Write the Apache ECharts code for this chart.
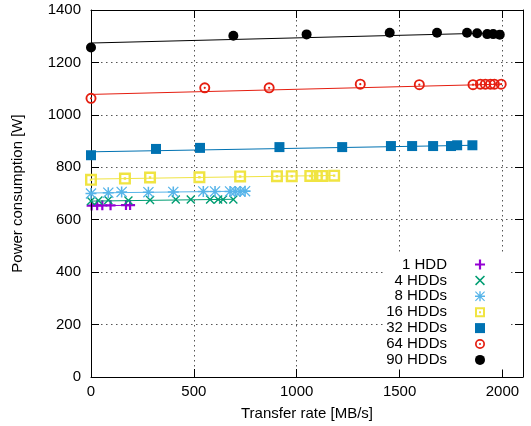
<!DOCTYPE html>
<html><head><meta charset="utf-8">
<script src="https://cdn.jsdelivr.net/npm/echarts@6/dist/echarts.min.js"></script>
<style>html,body{margin:0;padding:0;background:#fff}#c{width:531px;height:426px}</style>
</head><body><div id="c"></div>
<script>
// ---- data ----
const seriesNames = ['1 HDD', '4 HDDs', '8 HDDs', '16 HDDs', '32 HDDs', '64 HDDs', '90 HDDs'];

const rate1  = [3, 30, 55, 95, 170, 190];
const power1 = [654, 655, 655, 655, 656, 656];

const rate4  = [0, 36, 84, 182, 287, 412, 485, 579, 618, 642, 692];
const power4 = [671, 673, 675, 673, 675, 677, 677, 677, 677, 677, 677];

const rate8  = [0, 84, 149, 279, 400, 546, 603, 676, 701, 725, 749];
const power8 = [700, 703, 706, 705, 706, 708, 708, 708, 708, 708, 709];

const rate16  = [0, 165, 287, 527, 725, 904, 976, 1066, 1098, 1123, 1182];
const power16 = [752, 757, 761, 762, 765, 766, 766, 767, 767, 767, 768];

const rate32  = [0, 316, 530, 916, 1221, 1458, 1561, 1663, 1750, 1780, 1854];
const power32 = [846, 870, 874, 877, 877, 881, 881, 881, 881, 884, 884];

const rate64  = [0, 553, 866, 1309, 1596, 1857, 1893, 1917, 1942, 1961, 1994];
const power64 = [1063, 1103, 1103, 1117, 1115, 1115, 1117, 1117, 1117, 1117, 1117];

const rate90  = [0, 692, 1048, 1452, 1682, 1828, 1877, 1926, 1955, 1987];
const power90 = [1257, 1302, 1307, 1313, 1313, 1313, 1311, 1308, 1308, 1306];

// linear fit lines: power at rate 0 and at the last rate
const fitStartPower = [653, 671, 702, 755, 859, 1078, 1274];
const fitEndPower   = [655, 678, 709, 769, 884, 1117, 1313];
const fitEndRate    = [190, 692, 749, 1182, 1854, 1994, 1987];

const xTickValues = [0, 500, 1000, 1500, 2000];
const xAxisMax = 2100;
const yTickValues = [0, 200, 400, 600, 800, 1000, 1200, 1400];

// ---- styling ----
const colors = ['#9400d3', '#009e73', '#56b4e9', '#f0e442', '#0072b2', '#e51e10', '#000000'];
const symbols = [
  'path://M3.9,0H6.1V3.9H10V6.1H6.1V10H3.9V6.1H0V3.9H3.9Z',
  'path://M0,1.1L1.1,0L5,3.9L8.9,0L10,1.1L6.1,5L10,8.9L8.9,10L5,6.1L1.1,10L0,8.9L3.9,5Z',
  'path://M4.3,0H5.7V10H4.3Z M0,4.3H10V5.7H0Z M0.8,0L10,9.2L9.2,10L0,0.8Z M9.2,0L10,0.8L0.8,10L0,9.2Z',
  'path://M0,0H10V10H0Z M2,2V8H8V2Z M4,4H6V6H4Z',
  'path://M0,0H10V10H0Z',
  'path://M0,5A5,5,0,1,1,10,5A5,5,0,1,1,0,5Z M1.7,5A3.3,3.3,0,1,0,8.3,5A3.3,3.3,0,1,0,1.7,5Z M4,5A1,1,0,1,1,6,5A1,1,0,1,1,4,5Z',
  'circle'
];
const symbolSizes = [10, 9, 11, 12, 10, 11, 10];
const rates = [rate1, rate4, rate8, rate16, rate32, rate64, rate90];
const powers = [power1, power4, power8, power16, power32, power64, power90];

const FONT = 'Liberation Sans';
const series = [];
for (let i = 0; i < seriesNames.length; i++) {
  series.push({
    name: seriesNames[i] + ' fit',
    type: 'line',
    data: [[0, fitStartPower[i]], [fitEndRate[i], fitEndPower[i]]],
    showSymbol: false,
    symbol: 'none',
    lineStyle: { color: colors[i], width: 1 },
    z: 2 + i * 2,
    silent: true
  });
  series.push({
    name: seriesNames[i],
    type: 'scatter',
    data: rates[i].map((r, k) => [r, powers[i][k]]),
    symbol: symbols[i],
    symbolSize: symbolSizes[i],
    itemStyle: { color: colors[i], opacity: 1 },
    z: 3 + i * 2
  });
}

const axisCommon = {
  axisLine: { show: true, onZero: false, lineStyle: { color: '#000', width: 1 } },
  axisTick: { show: true, inside: true, length: 8, lineStyle: { color: '#000', width: 1 } },
  minorTick: { show: false }
};
const plainNum = v => String(v);

const chart = echarts.init(document.getElementById('c'), null, { renderer: 'canvas' });
chart.setOption({
  animation: false,
  backgroundColor: '#fff',
  textStyle: { fontFamily: FONT },
  grid: { left: 91, right: 8, top: 10, bottom: 49, containLabel: false },
  xAxis: [
    Object.assign({}, axisCommon, {
      type: 'value', position: 'bottom', z: 5,
      min: xTickValues[0], max: xAxisMax, interval: xTickValues[1] - xTickValues[0],
      name: 'Transfer rate [MB/s]', nameLocation: 'middle', nameGap: 29,
      nameTextStyle: { fontFamily: FONT, fontSize: 15, color: '#000' },
      axisLabel: { fontFamily: FONT, fontSize: 15, color: '#000', margin: 7, showMaxLabel: false, formatter: plainNum },
      splitLine: { show: true, lineStyle: { color: '#555', width: 1, type: [1.5, 3.5] } }
    }),
    Object.assign({}, axisCommon, {
      type: 'value', position: 'top', z: 5,
      min: xTickValues[0], max: xAxisMax, interval: xTickValues[1] - xTickValues[0],
      axisLabel: { show: false }, splitLine: { show: false }
    })
  ],
  yAxis: [
    Object.assign({}, axisCommon, {
      type: 'value', position: 'left', z: 5,
      min: yTickValues[0], max: yTickValues[yTickValues.length - 1], interval: yTickValues[1] - yTickValues[0],
      name: 'Power consumption [W]', nameLocation: 'middle', nameGap: 66,
      nameTextStyle: { fontFamily: FONT, fontSize: 15, color: '#000' },
      axisLabel: { fontFamily: FONT, fontSize: 15, color: '#000', margin: 10, formatter: plainNum },
      splitLine: { show: true, lineStyle: { color: '#555', width: 1, type: [1.5, 3.5] } }
    }),
    Object.assign({}, axisCommon, {
      type: 'value', position: 'right', z: 5,
      min: yTickValues[0], max: yTickValues[yTickValues.length - 1], interval: yTickValues[1] - yTickValues[0],
      axisLabel: { show: false }, splitLine: { show: false }
    })
  ],
  legend: {
    data: seriesNames,
    orient: 'vertical',
    align: 'right',
    right: 21,
    top: 255,
    z: 6,
    padding: [2, 25, 2, 2],
    backgroundColor: '#fff',
    itemWidth: 56,
    itemHeight: 10,
    itemGap: 0.9,
    selectedMode: false,
    textStyle: { fontFamily: FONT, fontSize: 15, color: '#000', lineHeight: 15 }
  },
  series: series
});
</script>
</body></html>
